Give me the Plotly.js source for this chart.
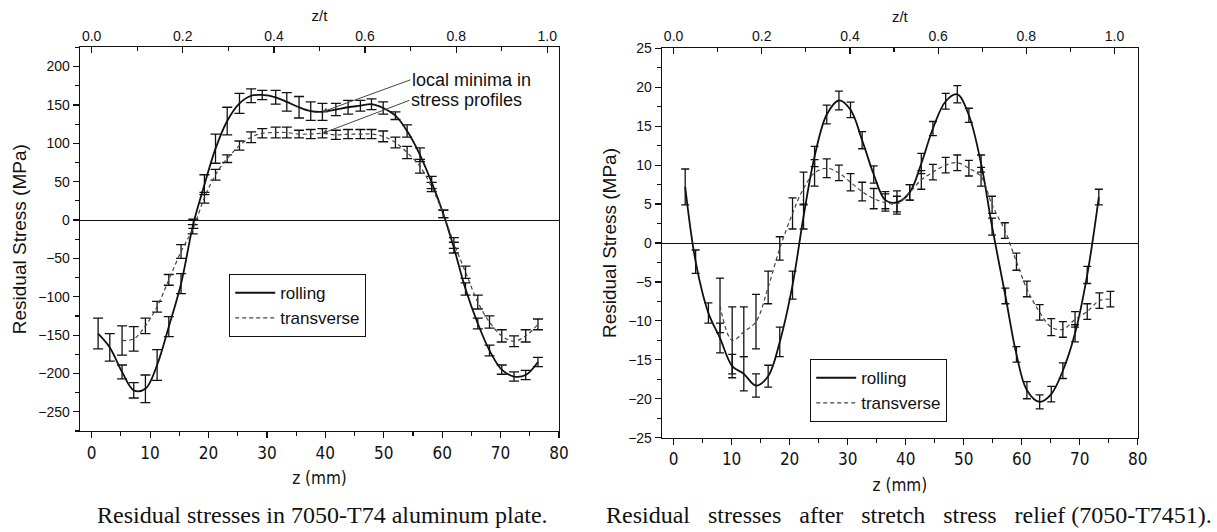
<!DOCTYPE html>
<html><head><meta charset="utf-8">
<script src="https://cdn.plot.ly/plotly-3.0.1.min.js"></script>
<style>html,body{margin:0;padding:0;background:#fff}#chart{width:1217px;height:532px}</style>
</head><body><div id="chart"></div>
<script>
// ---------- Left panel: 7050-T74 plate ----------
const leftRollZ   = [1.1, 3.1, 5.2, 7.2, 9.2, 11.2, 13.2, 15.3, 17.4, 19.3, 21.2, 23.2, 25.3, 27.3, 29.2, 31.5, 33.4, 35.5, 37.5, 39.5, 41.8, 43.9, 46.0, 47.9, 49.9, 52.0, 54.0, 56.2, 58.2, 60.2, 62.0, 64.0, 66.1, 68.1, 70.2, 72.3, 74.3, 76.4];
const leftRollS   = [-148, -166, -198, -222, -220, -189, -139, -83, -5, 46, 93, 129, 152, 162, 163, 160, 154, 147, 142, 141, 144, 147, 149, 151, 146, 136, 116, 85, 49, 8, -36, -90, -135, -170, -195, -204, -202, -185];
const leftRollErr = [20, 18, 9, 10, 18, 20, 13, 13, 6, 13, 19, 18, 13, 9, 6, 9, 12, 14, 12, 11, 8, 9, 7, 7, 8, 5, 8, 9, 8, 5, 7, 8, 7, 7, 6, 6, 6, 6];
const leftTransZ   = [5.2, 7.2, 9.2, 11.2, 13.2, 15.3, 17.3, 19.3, 21.2, 23.2, 25.3, 27.3, 29.2, 31.5, 33.4, 35.5, 37.5, 39.5, 41.8, 43.9, 46.0, 47.9, 49.9, 52.0, 54.0, 56.2, 58.2, 60.2, 62.0, 64.0, 66.1, 68.1, 70.2, 72.3, 74.3, 76.4];
const leftTransS   = [-157, -155, -138, -113, -78, -41, -12, 29, 59, 80, 97, 108, 113, 114, 114, 112, 112, 113, 111, 112, 112, 112, 109, 101, 88, 70, 43, 8, -30, -68, -107, -133, -151, -158, -151, -136];
const leftTransErr = [19, 16, 10, 7, 7, 9, 6, 7, 7, 5, 6, 7, 6, 7, 7, 5, 6, 6, 6, 6, 6, 6, 7, 7, 8, 9, 6, 5, 7, 8, 9, 8, 8, 7, 8, 7];
const leftThickness = 78;   // mm, for z/t axis

// ---------- Right panel: 7050-T7451 ----------
const rightRollZ   = [2.0, 3.8, 6.0, 8.0, 10.1, 12.1, 14.2, 16.3, 18.3, 20.5, 22.4, 24.3, 26.4, 28.5, 30.5, 32.5, 34.5, 36.5, 38.5, 40.7, 42.7, 44.7, 46.9, 48.9, 50.9, 53.0, 54.9, 57.2, 59.1, 60.9, 63.1, 65.1, 67.1, 69.2, 71.3, 73.3];
const rightRollS   = [7.2, -2.4, -9.0, -12.2, -15.8, -16.8, -18.3, -17.1, -12.7, -5.4, 3.4, 11.1, 16.5, 18.3, 17.1, 13.2, 8.8, 5.5, 5.2, 6.5, 10.2, 14.7, 18.2, 19.1, 16.4, 10.2, 2.1, -6.8, -14.3, -18.9, -20.4, -19.4, -16.4, -11.6, -4.1, 5.9];
const rightRollErr = [2.3, 1.5, 1.3, 1.9, 1.5, 2.2, 1.5, 1.4, 1.9, 1.8, 1.6, 1.3, 1.2, 1.2, 1.0, 1.1, 1.1, 1.1, 1.5, 1.0, 1.3, 0.9, 1.0, 1.1, 0.9, 1.1, 1.1, 1.0, 1.0, 1.1, 0.9, 1.0, 1.0, 1.1, 1.1, 1.0];
const rightTransZ   = [8.0, 10.1, 12.1, 14.2, 16.3, 18.3, 20.5, 22.4, 24.3, 26.4, 28.5, 30.5, 32.5, 34.5, 36.5, 38.5, 40.7, 42.7, 44.7, 46.9, 48.9, 50.9, 53.0, 54.9, 57.1, 59.1, 60.9, 63.1, 65.1, 67.1, 69.2, 71.3, 73.4, 75.3];
const rightTransS   = [-8.0, -12.5, -11.4, -10.1, -5.7, -0.7, 3.8, 7.0, 9.0, 9.6, 9.0, 7.8, 6.6, 5.7, 5.2, 5.0, 6.5, 8.1, 9.1, 10.0, 10.3, 9.6, 8.5, 4.9, 1.6, -2.4, -5.9, -8.9, -10.8, -11.1, -9.8, -8.8, -7.4, -7.2];
const rightTransErr = [3.5, 4.3, 3.2, 3.5, 2.1, 1.5, 2.0, 2.1, 1.7, 1.2, 1.0, 1.1, 1.2, 1.3, 1.1, 1.0, 1.0, 1.2, 1.0, 1.0, 1.0, 1.0, 1.2, 1.1, 1.0, 1.1, 1.0, 1.0, 1.1, 1.0, 1.0, 1.0, 1.0, 1.0];
const rightThickness = 76;  // mm, for z/t axis

const sans = 'Liberation Sans, Arial, sans-serif';
const narrow = 'Liberation Sans Narrow, DejaVu Sans Condensed, Liberation Sans, sans-serif';
const serif = 'Liberation Serif, Times New Roman, serif';
const ink = '#111';

function errBar(arr, w) {
  return {type: 'data', array: arr, visible: true, color: ink, thickness: 1.3, width: w};
}

const traces = [
  {x: leftRollZ, y: leftRollS, xaxis: 'x', yaxis: 'y', mode: 'lines', name: 'rolling', legend: 'legend',
   line: {color: ink, width: 1.8, shape: 'spline', smoothing: 1}, error_y: errBar(leftRollErr, 5), hoverinfo: 'skip'},
  {x: leftTransZ, y: leftTransS, xaxis: 'x', yaxis: 'y', mode: 'lines', name: 'transverse', legend: 'legend',
   line: {color: '#444', width: 1.2, dash: '4px,3px', shape: 'spline', smoothing: 1}, error_y: errBar(leftTransErr, 5), hoverinfo: 'skip'},
  {x: [], y: [], xaxis: 'x2', yaxis: 'y', showlegend: false, hoverinfo: 'skip'},
  {x: rightRollZ, y: rightRollS, xaxis: 'x3', yaxis: 'y2', mode: 'lines', name: 'rolling', legend: 'legend2',
   line: {color: ink, width: 1.8, shape: 'spline', smoothing: 1}, error_y: errBar(rightRollErr, 4), hoverinfo: 'skip'},
  {x: rightTransZ, y: rightTransS, xaxis: 'x3', yaxis: 'y2', mode: 'lines', name: 'transverse', legend: 'legend2',
   line: {color: '#444', width: 1.2, dash: '4px,3px', shape: 'spline', smoothing: 1}, error_y: errBar(rightTransErr, 4), hoverinfo: 'skip'},
  {x: [], y: [], xaxis: 'x4', yaxis: 'y2', showlegend: false, hoverinfo: 'skip'}
];

function bottomAxis(domain, anchor) {
  return {domain: domain, anchor: anchor, range: [-2, 80], tick0: 0, dtick: 10,
    ticks: 'outside', ticklen: 6, tickwidth: 1.2, tickcolor: ink,
    showline: true, linecolor: ink, linewidth: 1.3, showgrid: false, zeroline: false,
    minor: {dtick: 5, ticks: 'outside', ticklen: 4, tickwidth: 1.2, tickcolor: ink},
    tickfont: {family: narrow, size: 17, color: ink},
    title: {text: 'z (mm)', font: {family: narrow, size: 17, color: ink}, standoff: 10}};
}
function topAxis(over, anchor, t) {
  return {overlaying: over, anchor: anchor, side: 'top', range: [-2 / t, 80 / t], tick0: 0, dtick: 0.2,
    tickformat: '.1f', ticks: 'inside', ticklen: 6, tickwidth: 1.2, tickcolor: ink,
    showline: true, linecolor: ink, linewidth: 1.3, showgrid: false, zeroline: false,
    minor: {dtick: 0.1, ticks: 'inside', ticklen: 4, tickwidth: 1.2, tickcolor: ink},
    tickfont: {family: sans, size: 14, color: ink},
    title: {text: 'z/t', font: {family: sans, size: 15, color: ink}, standoff: 2}};
}
function leftAxis(domain, anchor, range, dtick) {
  return {domain: domain, anchor: anchor, range: range, dtick: dtick,
    ticks: 'outside', ticklen: 6, tickwidth: 1.2, tickcolor: ink,
    showline: true, mirror: true, linecolor: ink, linewidth: 1.3, showgrid: false,
    zeroline: true, zerolinecolor: ink, zerolinewidth: 1,
    minor: {dtick: dtick / 2, ticks: 'outside', ticklen: 4, tickwidth: 1.2, tickcolor: ink},
    tickfont: {family: sans, size: 14, color: ink},
    title: {text: 'Residual Stress (MPa)', font: {family: sans, size: 19, color: ink}, standoff: 6}};
}

const leftMinIdx = 19;   // local minimum points (z = 39.5 mm)
const transMinIdx = 17;

const legendStyle = (x, y) => ({x: x, y: y, xanchor: 'left', yanchor: 'top', bgcolor: '#fff',
  bordercolor: ink, borderwidth: 1.2, font: {family: sans, size: 17, color: ink}, itemwidth: 40, tracegroupgap: 0});

const layout = {
  width: 1217, height: 532,
  margin: {l: 0, r: 0, t: 0, b: 0},
  paper_bgcolor: '#fff', plot_bgcolor: '#fff',
  font: {family: sans, color: ink},
  xaxis: bottomAxis([80 / 1217, 559 / 1217], 'y'),
  xaxis2: topAxis('x', 'y', leftThickness),
  yaxis: leftAxis([1 - 431 / 532, 1 - 47.4 / 532], 'x', [-275, 225], 50),
  xaxis3: bottomAxis([662 / 1217, 1137.7 / 1217], 'y2'),
  xaxis4: topAxis('x3', 'y2', rightThickness),
  yaxis2: leftAxis([1 - 437.7 / 532, 1 - 48.3 / 532], 'x3', [-25, 25], 5),
  legend: legendStyle(229 / 1217, 1 - 274 / 532),
  legend2: legendStyle(810 / 1217, 1 - 359 / 532),
  annotations: [
    {xref: 'x', yref: 'y', x: leftRollZ[leftMinIdx], y: leftRollS[leftMinIdx], ax: 88, ay: -32,
     text: 'local minima in', xanchor: 'left', yanchor: 'middle', showarrow: true, arrowhead: 2, arrowsize: 1,
     arrowwidth: 1, arrowcolor: '#444', font: {family: sans, size: 18, color: ink}},
    {xref: 'x', yref: 'y', x: leftTransZ[transMinIdx], y: leftTransS[transMinIdx], ax: 87, ay: -33,
     text: 'stress profiles', xanchor: 'left', yanchor: 'middle', showarrow: true, arrowhead: 2, arrowsize: 1,
     arrowwidth: 1, arrowcolor: '#444', font: {family: sans, size: 18, color: ink}},
    {xref: 'paper', yref: 'paper', x: 322.5 / 1217, y: 1 - 515 / 532, xanchor: 'center', yanchor: 'middle',
     showarrow: false, text: 'Residual stresses in 7050-T74 aluminum plate.', font: {family: serif, size: 24, color: ink}},
    {xref: 'paper', yref: 'paper', x: 908.5 / 1217, y: 1 - 515 / 532, xanchor: 'center', yanchor: 'middle',
     showarrow: false, text: 'Residual\u00A0\u00A0 stresses\u00A0\u00A0 after\u00A0\u00A0 stretch\u00A0\u00A0 stress\u00A0\u00A0 relief (7050-T7451).',
     font: {family: serif, size: 24, color: ink}}
  ],
  showlegend: true
};

Plotly.newPlot('chart', traces, layout, {staticPlot: true});
</script></body></html>
